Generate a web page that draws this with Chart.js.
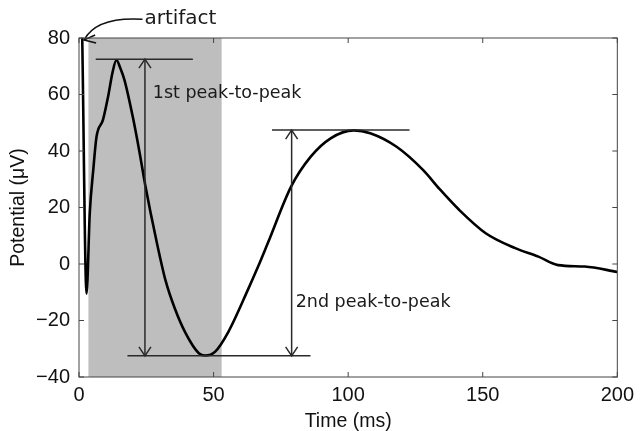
<!DOCTYPE html>
<html>
<head>
<meta charset="utf-8">
<script src="https://cdn.jsdelivr.net/npm/chart.js@4.4.0/dist/chart.umd.min.js"></script>
<style>
  html, body { margin: 0; padding: 0; background: #fff; }
  #wrap { width: 640px; height: 431px; }
</style>
</head>
<body>
<div id="wrap"><canvas id="line-chart"></canvas></div>
<script>
// evoked potential trace
var timeMs = [1.2, 2.8, 4.0, 5.3, 6.5, 8.9, 10.8, 12.5, 13.9, 15.3, 16.9, 20.0, 22.4, 24.6,
  28.6, 32.2, 35.5, 39.6, 44.5, 46.9, 50.6, 55.5, 62.9, 66.5, 70.2, 78.8, 86.1, 93.5,
  102.1, 108.2, 118.0, 127.8, 134.0, 141.3, 151.1, 162.1, 170.7, 178.0, 187.9, 200.0];
var potential = [80, -10.5, 18, 33.3, 45, 51, 59.2, 68, 72.2, 69.5, 65.1, 52, 40, 28,
  9, -6, -15.5, -24.5, -31.6, -32.4, -31, -24, -8.8, -1, 7.5, 27.4, 38, 44.5,
  47.3, 46.3, 41.5, 33.3, 26.5, 19.1, 10.9, 5.6, 2.6, -0.4, -0.9, -2.8];

var xTicks = [0, 50, 100, 150, 200];
var yTicks = [-40, -20, 0, 20, 40, 60, 80];

// shaded window (ms)
var shadeRange = [3.5, 53];

// peak markers: [xStart, xEnd, y]
var hLines = [[6.2, 42.3, 72.5], [18, 86, -32.5], [71.7, 122.8, 47.4]];
// double arrows: [x, yTop, yBottom]
var arrows = [[24.5, 72.5, -32.5], [79, 47.4, -32.5]];
// labels: [text, x, y, size]
var labels = [['1st peak-to-peak', 27.4, 60.5, 17.5], ['2nd peak-to-peak', 80.5, -13.5, 17.5], ['artifact', 24.3, 86.8, 20]];
// curved pointer to artifact: start, control, end
var artifactPointer = [[23.6, 86.6], [6.5, 87.6], [1.9, 79.3]];

var points = [];
for (var i in timeMs) {
  points.push({ x: timeMs[i], y: potential[i] });
}

function arrowHead(ctx, x, y, dir) {
  ctx.beginPath();
  ctx.moveTo(x - 6, y + dir * 9);
  ctx.lineTo(x, y);
  ctx.lineTo(x + 6, y + dir * 9);
  ctx.stroke();
}

function minusTick(v) {
  return v < 0 ? '\u2212' + Math.abs(v) : '' + v;
}

var annotations = {
  id: 'annotations',
  beforeDatasetsDraw: function (chart) {
    var ctx = chart.ctx, xs = chart.scales.x, a = chart.chartArea;
    ctx.save();
    ctx.fillStyle = '#bebebe';
    var x0 = xs.getPixelForValue(shadeRange[0]), x1 = xs.getPixelForValue(shadeRange[1]);
    ctx.fillRect(x0, a.top, x1 - x0, a.bottom - a.top);
    ctx.restore();
  },
  afterDatasetsDraw: function (chart) {
    var ctx = chart.ctx, xs = chart.scales.x, ys = chart.scales.y, a = chart.chartArea;
    ctx.save();
    ctx.strokeStyle = '#2a2a2a';
    ctx.lineWidth = 1.5;
    hLines.forEach(function (h) {
      ctx.beginPath();
      ctx.moveTo(xs.getPixelForValue(h[0]), ys.getPixelForValue(h[2]));
      ctx.lineTo(xs.getPixelForValue(h[1]), ys.getPixelForValue(h[2]));
      ctx.stroke();
    });
    arrows.forEach(function (ar) {
      var px = xs.getPixelForValue(ar[0]);
      var pt = ys.getPixelForValue(ar[1]), pb = ys.getPixelForValue(ar[2]);
      ctx.beginPath();
      ctx.moveTo(px, pt);
      ctx.lineTo(px, pb);
      ctx.stroke();
      arrowHead(ctx, px, pt, 1);
      arrowHead(ctx, px, pb, -1);
    });

    // artifact pointer
    var p = artifactPointer.map(function (q) { return [xs.getPixelForValue(q[0]), ys.getPixelForValue(q[1])]; });
    ctx.strokeStyle = '#111';
    ctx.lineWidth = 1.5;
    ctx.beginPath();
    ctx.moveTo(p[0][0], p[0][1]);
    ctx.quadraticCurveTo(p[1][0], p[1][1], p[2][0], p[2][1]);
    ctx.stroke();
    ctx.beginPath();
    ctx.moveTo(p[2][0] + 11, p[2][1] - 5);
    ctx.lineTo(p[2][0], p[2][1]);
    ctx.lineTo(p[2][0] + 12, p[2][1] + 3);
    ctx.stroke();

    ctx.fillStyle = '#1a1a1a';
    ctx.textBaseline = 'middle';
    ctx.textAlign = 'left';
    labels.forEach(function (l) {
      ctx.font = l[3] + 'px "DejaVu Sans"';
      ctx.fillText(l[0], xs.getPixelForValue(l[1]), ys.getPixelForValue(l[2]));
    });

    // box with inward ticks
    ctx.strokeStyle = '#444';
    ctx.lineWidth = 1;
    ctx.strokeRect(a.left, a.top, a.right - a.left, a.bottom - a.top);
    xTicks.forEach(function (t) {
      var px = xs.getPixelForValue(t);
      ctx.beginPath();
      ctx.moveTo(px, a.bottom); ctx.lineTo(px, a.bottom - 5);
      ctx.moveTo(px, a.top); ctx.lineTo(px, a.top + 5);
      ctx.stroke();
    });
    yTicks.forEach(function (t) {
      var py = ys.getPixelForValue(t);
      ctx.beginPath();
      ctx.moveTo(a.left, py); ctx.lineTo(a.left + 5, py);
      ctx.moveTo(a.right, py); ctx.lineTo(a.right - 5, py);
      ctx.stroke();
    });
    ctx.restore();
  }
};

new Chart(document.getElementById("line-chart"), {
  type: 'scatter',
  data: {
    datasets: [{
      data: points,
      showLine: true,
      borderColor: '#000',
      borderWidth: 2.6,
      pointRadius: 0,
      cubicInterpolationMode: 'monotone',
      fill: false
    }]
  },
  options: {
    responsive: true,
    maintainAspectRatio: false,
    animation: false,
    layout: { padding: { top: 38, right: 17, left: 0, bottom: 0 } },
    plugins: { legend: { display: false }, tooltip: { enabled: false } },
    scales: {
      x: {
        type: 'linear', min: 0, max: 200,
        afterBuildTicks: function (s) { s.ticks = xTicks.map(function (v) { return { value: v }; }); },
        afterFit: function (s) { s.height = 54; },
        grid: { display: false, drawTicks: false },
        border: { display: false },
        ticks: { color: '#111', padding: 6, callback: minusTick, font: { family: '"Liberation Sans"', size: 20 } },
        title: { display: true, text: 'Time (ms)', color: '#111', padding: { top: 0, bottom: -2 }, font: { family: '"Liberation Sans"', size: 19.5 } }
      },
      y: {
        min: -40, max: 80,
        afterBuildTicks: function (s) { s.ticks = yTicks.map(function (v) { return { value: v }; }); },
        afterFit: function (s) { s.width = 79; },
        grid: { display: false, drawTicks: false },
        border: { display: false },
        ticks: { color: '#111', padding: 9, callback: minusTick, font: { family: '"Liberation Sans"', size: 20 } },
        title: { display: true, text: 'Potential (\u03bcV)', color: '#111', padding: { bottom: 0, top: 7 }, font: { family: '"Liberation Sans"', size: 19.5 } }
      }
    }
  },
  plugins: [annotations]
});
</script>
</body>
</html>
